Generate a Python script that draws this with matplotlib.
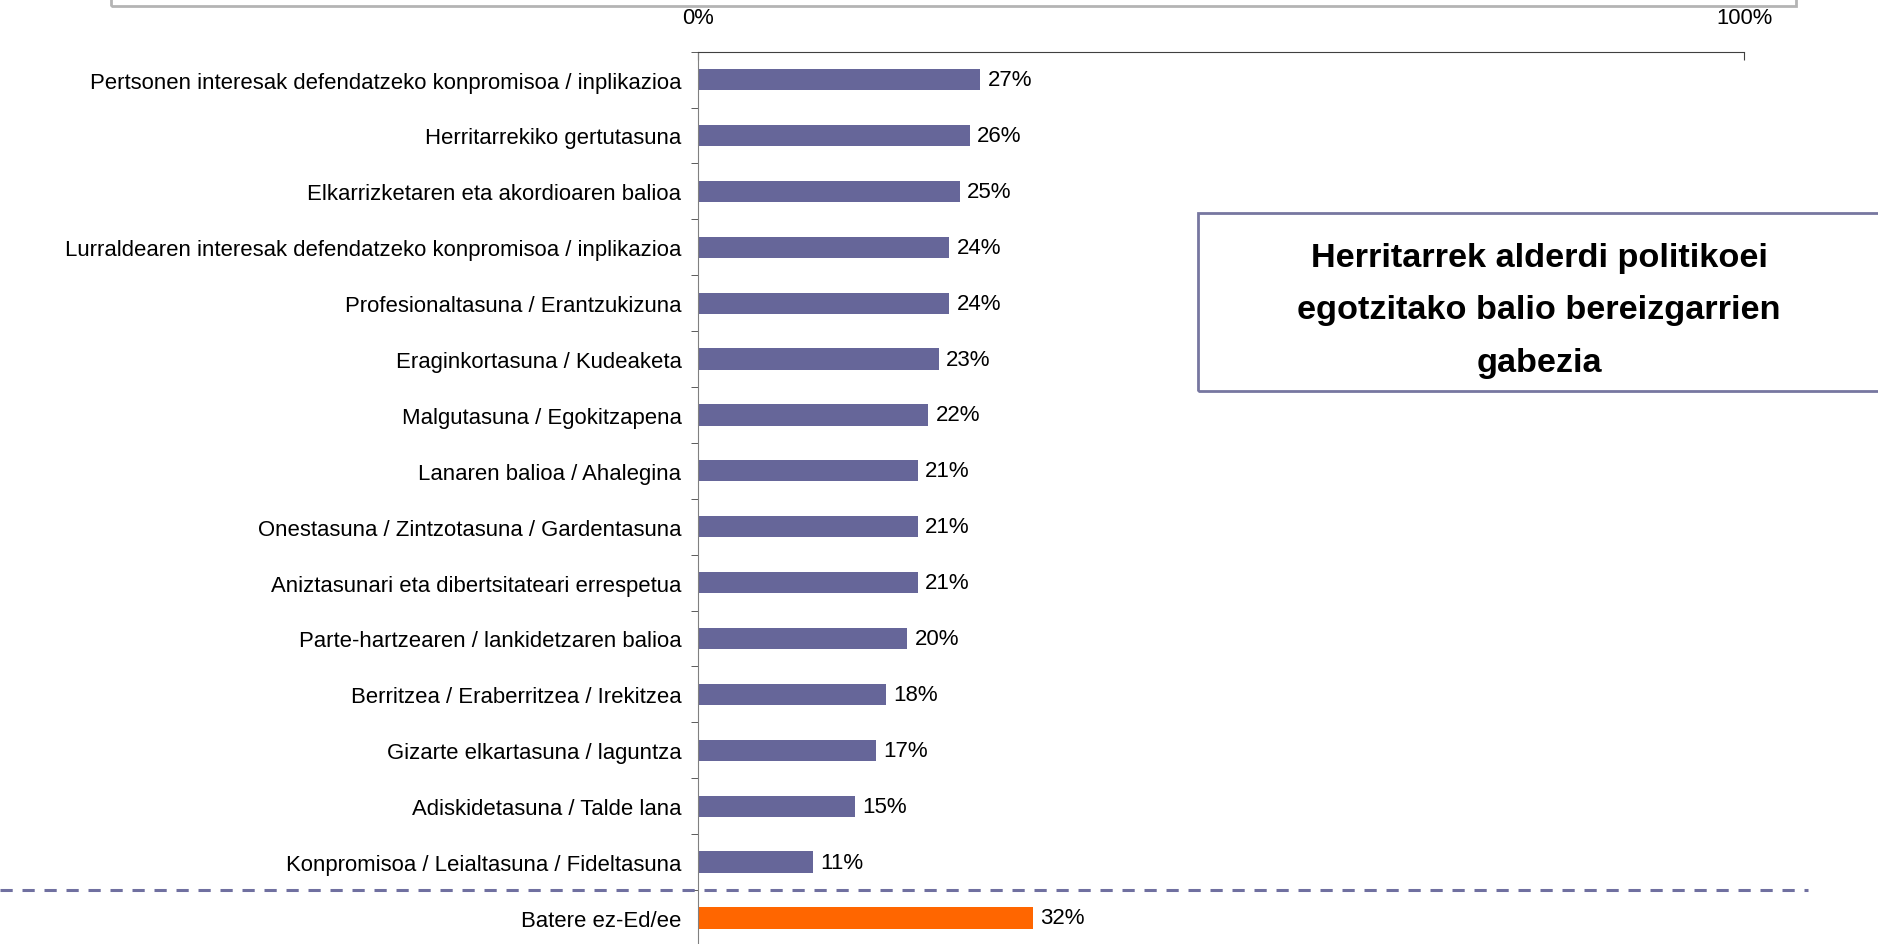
import matplotlib.pyplot as plt
from matplotlib.patches import Rectangle

plt.rcParams['font.family'] = ['Liberation Sans', 'DejaVu Sans']

categories = [
    "Pertsonen interesak defendatzeko konpromisoa / inplikazioa",
    "Herritarrekiko gertutasuna",
    "Elkarrizketaren eta akordioaren balioa",
    "Lurraldearen interesak defendatzeko konpromisoa / inplikazioa",
    "Profesionaltasuna / Erantzukizuna",
    "Eraginkortasuna / Kudeaketa",
    "Malgutasuna / Egokitzapena",
    "Lanaren balioa / Ahalegina",
    "Onestasuna / Zintzotasuna / Gardentasuna",
    "Aniztasunari eta dibertsitateari errespetua",
    "Parte-hartzearen / lankidetzaren balioa",
    "Berritzea / Eraberritzea / Irekitzea",
    "Gizarte elkartasuna / laguntza",
    "Adiskidetasuna / Talde lana",
    "Konpromisoa / Leialtasuna / Fideltasuna",
    "Batere ez-Ed/ee",
]
values = [27, 26, 25, 24, 24, 23, 22, 21, 21, 21, 20, 18, 17, 15, 11, 32]
colors = ["#666699"] * 15 + ["#FF6600"]
x_ticks = [0, 100]
x_tick_labels = ["0%", "100%"]
title = "Herritarrek alderdi politikoei\negotzitako balio bereizgarrien\ngabezia"

fig = plt.figure(figsize=(18.78, 9.45), dpi=100)
ax = fig.add_axes([0.3717, -0.002, 0.557, 0.9463])

ypos = list(range(len(categories)))
ax.barh(ypos, values, height=0.38, color=colors)
for y, v in zip(ypos, values):
    ax.text(v + 0.7, y, f"{v}%", va="center", ha="left", fontsize=16)

ax.set_xlim(0, 100)
ax.set_ylim(len(categories) - 0.5, -0.5)

# category labels, ticks sit between bars
ax.set_yticks(ypos)
ax.set_yticklabels(categories, fontsize=15.9)
ax.tick_params(axis="y", length=0, pad=12)
ax.set_yticks([y + 0.5 for y in ypos[:-1]] + [-0.5], minor=True)
ax.tick_params(axis="y", which="minor", length=5, direction="out", color="#404040")

ax.xaxis.tick_top()
ax.set_xticks(x_ticks)
ax.set_xticklabels(x_tick_labels, fontsize=15.8)
ax.tick_params(axis="x", direction="in", length=6, pad=17, color="#404040")

for s in ["right", "bottom"]:
    ax.spines[s].set_visible(False)
ax.spines["top"].set_color("#404040")
ax.spines["left"].set_color("#808080")

# dashed separator before "Batere ez-Ed/ee"
ax.axhline(14.5, xmin=-0.667, xmax=1.061, clip_on=False,
           color="#7070A0", lw=2.2, ls=(0, (4, 3.2)))

# clipped frame at the top edge
fig.add_artist(Rectangle((111 / 1878, 1 - 7 / 945), (1796 - 111) / 1878, 0.1,
                         transform=fig.transFigure, fill=False,
                         edgecolor="#B4B4B4", lw=2))

# title box
fig.add_artist(Rectangle((0.638, 0.585), 0.4, 0.189, transform=fig.transFigure,
                         fill=False, edgecolor="#7777A0", lw=2))
fig.text(0.8195, 0.671, title, ha="center", va="center", fontsize=24.7,
         fontweight="bold", linespacing=1.88)

fig.savefig("out.png", dpi=100)
